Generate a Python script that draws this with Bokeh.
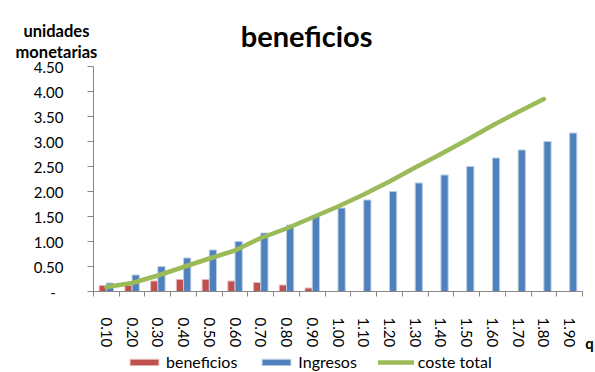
import numpy as np
from bokeh.plotting import figure
from bokeh.models import (Range1d, FixedTicker, CustomJSTickFormatter, Label,
                          Legend, LegendItem, ColumnDataSource)
from bokeh.transform import dodge
from bokeh.embed import file_html
from bokeh.resources import INLINE

# quantities on the horizontal axis
q_labels = ["0.10", "0.20", "0.30", "0.40", "0.50", "0.60", "0.70", "0.80", "0.90", "1.00",
            "1.10", "1.20", "1.30", "1.40", "1.50", "1.60", "1.70", "1.80", "1.90"]

# series (unidades monetarias)
beneficios = [0.12, 0.12, 0.21, 0.24, 0.24, 0.21, 0.18, 0.13, 0.07, 0.0,
              0.0, 0.0, 0.0, 0.0, 0.0, 0.0, 0.0, 0.0, 0.0]
ingresos = [0.17, 0.33, 0.50, 0.67, 0.83, 1.00, 1.17, 1.33, 1.50, 1.67,
            1.83, 2.00, 2.17, 2.33, 2.50, 2.67, 2.83, 3.00, 3.17]
coste_total = [0.09, 0.17, 0.32, 0.49, 0.66, 0.82, 1.07, 1.26, 1.48, 1.70,
               1.94, 2.20, 2.48, 2.75, 3.03, 3.32, 3.59, 3.85]

y_ticks = [0.0, 0.5, 1.0, 1.5, 2.0, 2.5, 3.0, 3.5, 4.0, 4.5]

FONT = "Lato"
RED = "#C0504D"
BLUE = "#4F81BD"
GREEN = "#9BBB59"
AXIS = "#868686"

W, H = 595, 372
# plot area inside the canvas (pixels): left, right, top, bottom
AREA_L, AREA_R, AREA_T, AREA_B = 93, 582, 66, 291

n = len(q_labels)
centers = np.arange(n) + 0.5
y_max = y_ticks[-1]

# the frame fills the canvas; ranges are padded so that the axes sit at the plot area
px_x = (AREA_R - AREA_L) / n
px_y = (AREA_B - AREA_T) / y_max
x_range = Range1d(-AREA_L / px_x, n + (W - AREA_R) / px_x)
y_range = Range1d(-(H - AREA_B) / px_y, y_max + AREA_T / px_y)

p = figure(width=W, height=H, output_backend="svg", toolbar_location=None,
           x_range=x_range, y_range=y_range,
           min_border_left=0, min_border_right=0, min_border_top=0,
           min_border_bottom=0)
p.xgrid.visible = False
p.ygrid.visible = False
p.outline_line_color = None
p.background_fill_color = "white"
p.border_fill_color = "white"

bars = ColumnDataSource(dict(x=centers, beneficios=beneficios, ingresos=ingresos))
r_ben = p.vbar(x=dodge("x", -0.14, range=p.x_range), top="beneficios", width=0.28,
               source=bars, fill_color=RED, line_color="#E6B9B8", line_width=1)
r_ing = p.vbar(x=dodge("x", 0.14, range=p.x_range), top="ingresos", width=0.28,
               source=bars, fill_color=BLUE, line_color="#B9CDE5", line_width=1)
r_cost = p.line(x=centers[:len(coste_total)], y=coste_total, line_color=GREEN,
                line_width=4.5, line_cap="round", line_join="round")

# y axis, pinned at x = 0
ya = p.yaxis[0]
ya.fixed_location = 0
ya.bounds = (0, y_max)
ya.ticker = FixedTicker(ticks=y_ticks)
ya.formatter = CustomJSTickFormatter(code='return tick == 0 ? "-\u00a0\u00a0" : tick.toFixed(2)')
ya.axis_line_color = AXIS
ya.major_tick_line_color = AXIS
ya.major_tick_out = 6
ya.major_tick_in = 0
ya.minor_tick_line_color = None
ya.major_label_standoff = 24
ya.major_label_text_font = FONT
ya.major_label_text_font_size = "15px"
ya.major_label_text_color = "black"

# x axis, pinned at y = 0: labels at category centres, tick marks on boundaries
xa = p.xaxis[0]
xa.fixed_location = 0
xa.bounds = (0, n)
xa.ticker = FixedTicker(ticks=list(centers), minor_ticks=list(range(n + 1)))
xa.formatter = CustomJSTickFormatter(args=dict(labels=q_labels),
                                     code="return labels[Math.floor(tick)]")
xa.axis_line_color = AXIS
xa.major_tick_line_color = None
xa.major_tick_out = 5
xa.major_tick_in = 0
xa.minor_tick_line_color = AXIS
xa.minor_tick_out = 5
xa.minor_tick_in = 0
xa.major_label_orientation = "vertical"
xa.major_label_standoff = 21
xa.major_label_text_font = FONT
xa.major_label_text_font_size = "15px"
xa.major_label_text_color = "black"


def text_label(x, y, text, size):
    return Label(x=x, y=y, text=text, text_font=FONT, text_font_size=size,
                 text_font_style="bold", text_align="center",
                 text_baseline="alphabetic", text_color="black")


p.add_layout(text_label(8.28, 5.12, "beneficios", "29px"))
p.add_layout(text_label(-1.44, 5.22, "unidades", "16.5px"))
p.add_layout(text_label(-1.44, 4.79, "monetarias", "16.5px"))
p.add_layout(text_label(19.27, -1.02, "q", "15px"))

legend = Legend(items=[LegendItem(label="beneficios", renderers=[r_ben]),
                       LegendItem(label="Ingresos", renderers=[r_ing]),
                       LegendItem(label="coste total", renderers=[r_cost])],
                orientation="horizontal", location=(126, 1),
                glyph_width=36, glyph_height=8, label_height=8, label_standoff=4,
                spacing=21, padding=0, margin=0, border_line_color=None,
                background_fill_alpha=0, label_text_font=FONT,
                label_text_font_size="16px", label_text_color="black")
p.add_layout(legend)

open("out.html", "w").write(file_html(p, INLINE))
